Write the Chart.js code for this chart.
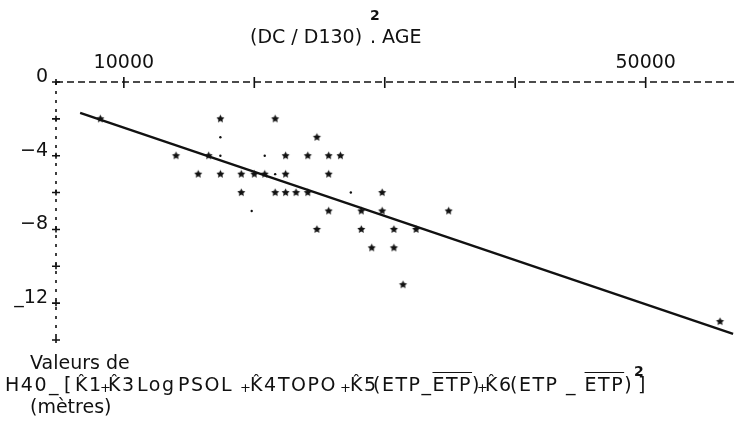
<!DOCTYPE html>
<html>
<head>
<meta charset="utf-8">
<script src="https://cdn.jsdelivr.net/npm/chart.js@4.4.1/dist/chart.umd.min.js"></script>
<style>
html, body { margin: 0; padding: 0; background: #fff; }
#wrap { position: relative; width: 742px; height: 434px; font-family: "DejaVu Sans", sans-serif; color: #111; }
#wrap canvas { position: absolute; left: 0; top: 0; }
.lbl { position: absolute; white-space: nowrap; font-size: 19px; line-height: 19px; }
.f { top: 375px; letter-spacing: 1.5px; }
.ov { text-decoration: overline; }
.pl { position: absolute; top: 381px; font-size: 13px; line-height: 13px; }
.sq { font-size: 14px; font-weight: bold; }
</style>
</head>
<body>
<div id="wrap">
  <canvas id="myChart" width="742" height="434"></canvas>
  <div class="lbl" style="left:250px; top:27px;">(DC / D130)</div>
  <div class="lbl sq" style="left:370px; top:6px;">2</div>
  <div class="lbl" style="left:370px; top:27px;">. AGE</div>
  <div class="lbl" style="left:30px; top:353px;">Valeurs de</div>

  <div class="lbl f" style="left:5px;">H40</div>
  <div class="lbl f" style="left:49px;">_</div>
  <div class="lbl f" style="left:64px;">[</div>
  <div class="lbl f" style="left:75px;">K&#770;1</div>
  <div class="pl" style="left:100px;">+</div>
  <div class="lbl f" style="left:108px;">K&#770;3</div>
  <div class="lbl f" style="left:137px;">Log</div>
  <div class="lbl f" style="left:178px;">PSOL</div>
  <div class="pl" style="left:240px;">+</div>
  <div class="lbl f" style="left:250px;">K&#770;4</div>
  <div class="lbl f" style="left:278px;">TOPO</div>
  <div class="pl" style="left:340px;">+</div>
  <div class="lbl f" style="left:350px;">K&#770;5</div>
  <div class="lbl f" style="left:373px;">(ETP_<span class="ov">ETP</span>)</div>
  <div class="pl" style="left:477px;">+</div>
  <div class="lbl f" style="left:485px;">K&#770;6</div>
  <div class="lbl f" style="left:510px;">(ETP _ <span class="ov">ETP</span>)</div>
  <div class="lbl sq" style="left:634px; top:362px;">2</div>
  <div class="lbl f" style="left:638px;">]</div>

  <div class="lbl" style="left:30px; top:397px;">(mètres)</div>
</div>
<script>
// axes
const xTicks = [10000, 20000, 30000, 40000, 50000];
const xTickLabels = ['10000', '', '', '', '50000'];
const yTicks = [0, -2, -4, -6, -8, -10, -12, -14];
const yTickLabels = ['0', '', '\u22124', '', '\u22128', '', '_12', ''];

// observations (stars)
const starX = [8200, 17400, 21600,
    24800,
    14000, 16500, 22400, 24100, 25700, 26600,
    15700, 17400, 19000, 20000, 20800, 22400, 25700,
    19000, 21600, 22400, 23200, 24100, 29800,
    25700, 28200, 29800, 34900,
    24800, 28200, 30700, 32400,
    29000, 30700,
    31400,
    55700];
const starY = [-2, -2, -2,
    -3,
    -4, -4, -4, -4, -4, -4,
    -5, -5, -5, -5, -5, -5, -5,
    -6, -6, -6, -6, -6, -6,
    -7, -7, -7, -7,
    -8, -8, -8, -8,
    -9, -9,
    -11,
    -13];

// faint partial marks
const markX = [17400, 17400, 20800, 21600, 27400, 19800];
const markY = [-3, -4, -4, -5, -6, -7];

// fitted line
const fitX = [6650, 56700];
const fitY = [-1.68, -13.67];

function makeStar(r) {
    const s = Math.ceil(r * 2) + 2;
    const c = document.createElement('canvas');
    c.width = s;
    c.height = s;
    const g = c.getContext('2d');
    g.fillStyle = '#111';
    g.beginPath();
    for (let i = 0; i < 10; i++) {
        const a = -Math.PI / 2 + i * Math.PI / 5;
        const rr = i % 2 ? r * 0.5 : r;
        g.lineTo(s / 2 + rr * Math.cos(a), s / 2 + rr * Math.sin(a));
    }
    g.closePath();
    g.fill();
    return c;
}

const axesPlugin = {
    id: 'axesPlugin',
    beforeDatasetsDraw(chart) {
        const { ctx, chartArea, scales } = chart;
        const x = scales.x, y = scales.y;
        ctx.save();
        ctx.strokeStyle = '#111';
        ctx.lineWidth = 1.6;
        // dashed x axis along the top
        ctx.setLineDash([7, 4]);
        ctx.beginPath();
        ctx.moveTo(chartArea.left, chartArea.top);
        ctx.lineTo(chartArea.right, chartArea.top);
        ctx.stroke();
        // dotted y axis
        ctx.setLineDash([3, 6]);
        ctx.beginPath();
        ctx.moveTo(chartArea.left, chartArea.top);
        ctx.lineTo(chartArea.left, chartArea.bottom);
        ctx.stroke();
        ctx.setLineDash([]);
        ctx.beginPath();
        x.ticks.forEach(t => {
            const px = x.getPixelForValue(t.value);
            ctx.moveTo(px, chartArea.top - 5);
            ctx.lineTo(px, chartArea.top + 6);
        });
        y.ticks.forEach(t => {
            const py = y.getPixelForValue(t.value);
            ctx.moveTo(chartArea.left - 4, py);
            ctx.lineTo(chartArea.left + 4, py);
            ctx.moveTo(chartArea.left, py - 3);
            ctx.lineTo(chartArea.left, py + 3);
        });
        ctx.stroke();
        ctx.restore();
    }
};

const tickFont = { family: '"DejaVu Sans", sans-serif', size: 19 };
const ctx = document.getElementById('myChart').getContext('2d');
const myChart = new Chart(ctx, {
    type: 'scatter',
    data: {
        datasets: [
            {
                label: 'Régression',
                type: 'line',
                data: fitX.map((v, i) => ({ x: v, y: fitY[i] })),
                borderColor: '#111',
                borderWidth: 2.4,
                pointRadius: 0,
                fill: false
            },
            {
                label: 'Observations',
                data: starX.map((v, i) => ({ x: v, y: starY[i] })),
                pointStyle: makeStar(4.2),
                backgroundColor: '#111',
                borderColor: '#111'
            },
            {
                label: 'Marques',
                data: markX.map((v, i) => ({ x: v, y: markY[i] })),
                pointStyle: 'circle',
                pointRadius: 1.2,
                backgroundColor: '#111',
                borderWidth: 0
            }
        ]
    },
    options: {
        responsive: false,
        animation: false,
        layout: { padding: { top: 0, left: 0, right: 0, bottom: 94 } },
        plugins: {
            legend: { display: false },
            tooltip: { enabled: false }
        },
        scales: {
            x: {
                type: 'linear',
                position: 'top',
                min: 4800,
                max: 57000,
                afterBuildTicks: s => { s.ticks = xTicks.map(v => ({ value: v })); },
                afterFit: s => { s.height = 82; },
                grid: { display: false, drawTicks: false },
                border: { display: false },
                ticks: {
                    padding: 8,
                    autoSkip: false,
                    maxRotation: 0,
                    color: '#111',
                    font: tickFont,
                    callback: (v, i) => xTickLabels[i]
                }
            },
            y: {
                type: 'linear',
                min: -14,
                max: 0,
                afterBuildTicks: s => { s.ticks = yTicks.map(v => ({ value: v })); },
                afterFit: s => { s.width = 56; },
                grid: { display: false, drawTicks: false },
                border: { display: false },
                ticks: {
                    padding: 8,
                    labelOffset: -5,
                    autoSkip: false,
                    color: '#111',
                    font: tickFont,
                    callback: (v, i) => yTickLabels[i]
                }
            }
        }
    },
    plugins: [axesPlugin]
});
</script>
</body>
</html>
